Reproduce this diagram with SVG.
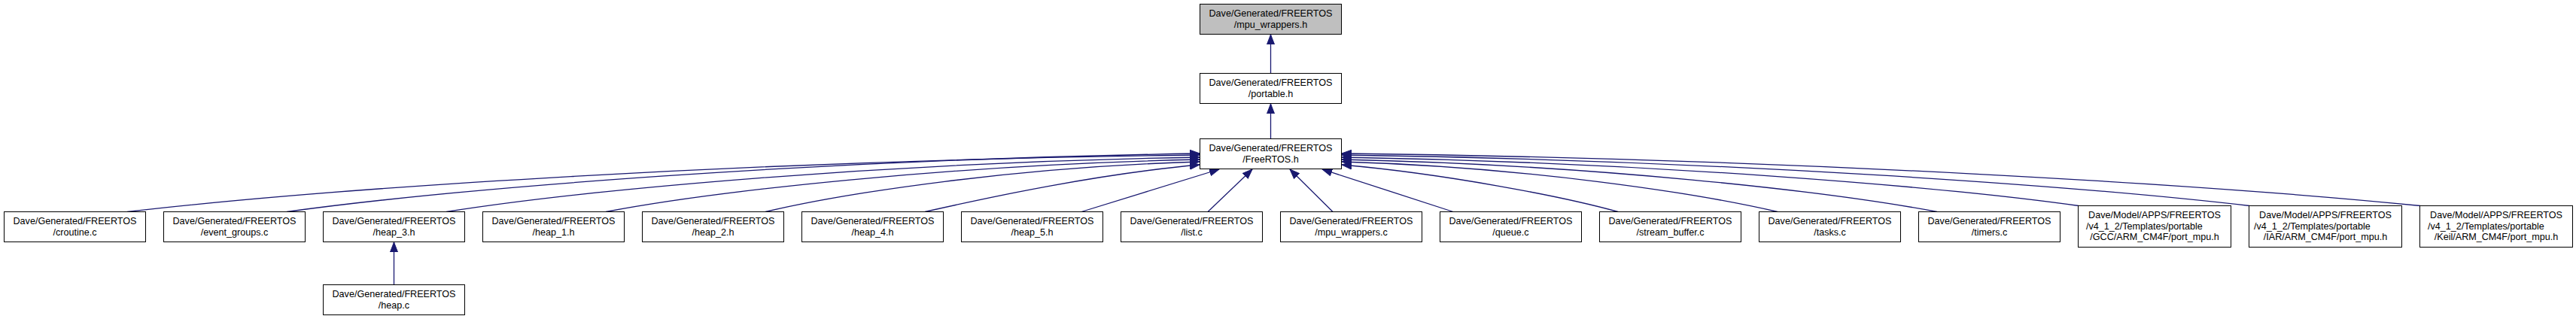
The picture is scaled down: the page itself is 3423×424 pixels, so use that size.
<svg xmlns="http://www.w3.org/2000/svg" width="3423" height="424" viewBox="0 0 3423 424">
<style>
.n rect{fill:#ffffff;stroke:#000000;stroke-width:1}
.n.g rect{fill:#bfbfbf}
text{font-family:"Liberation Sans",Arial,sans-serif;font-size:12.6px;fill:#000000}
.c{text-anchor:middle}
.e path{fill:none;stroke:#191970;stroke-width:1.3;marker-end:url(#ah)}
</style>
<defs>
<marker id="ah" viewBox="0 0 14 11" markerUnits="userSpaceOnUse" markerWidth="14" markerHeight="11" refX="13" refY="5.5" orient="auto">
<path d="M0,0.5 L13,5.5 L0,10.5 z" fill="#191970" stroke="#191970" stroke-width="1"/>
</marker>
</defs>
<rect width="3423" height="424" fill="#ffffff"/>
<g class="e" id="edges">
<path d="M1688.5,97.5 L1688.5,46"/>
<path d="M1688.5,184.5 L1688.5,138"/>
<path d="M523.5,378.5 L523.5,322"/>
<path d="M169,281.5 C440,250 995.5,213 1594,206"/>
<path d="M381,281.5 C610,250 1084.5,212 1594,204"/>
<path d="M593,281.5 C780,252 1173.6,216 1594,209"/>
<path d="M805,281.5 C950,254 1262.6,219 1594,212"/>
<path d="M1017,281.5 C1125,256 1351.7,222 1594,215"/>
<path d="M1229,281.5 C1320,261 1460,231 1594,219"/>
<path d="M1437,281.5 L1620,225"/>
<path d="M1605,281.5 L1664,225"/>
<path d="M1771,281.5 L1714,225"/>
<path d="M1931,281.5 L1757,225"/>
<path d="M2150,281.5 C2076,261 1920,231 1783,219"/>
<path d="M2362,281.5 C2252,256 2025.9,222 1783,215"/>
<path d="M2574,281.5 C2428,254 2114.9,219 1783,212"/>
<path d="M2762,273.5 C2580,248 2193.9,216 1783,209"/>
<path d="M2989,273.5 C2760,247 2289.2,213 1783,206"/>
<path d="M3216,273.5 C2940,246 2384.6,211 1783,204"/>
</g>
<g class="n g" id="node_mpu_wrappers_h"><rect x="1594.5" y="5.5" width="188" height="40"/><text class="c" x="1688.5" y="22">Dave/Generated/FREERTOS</text><text class="c" x="1688.5" y="37">/mpu_wrappers.h</text></g>
<g class="n" id="node_portable_h"><rect x="1594.5" y="97.5" width="188" height="40"/><text class="c" x="1688.5" y="114">Dave/Generated/FREERTOS</text><text class="c" x="1688.5" y="129">/portable.h</text></g>
<g class="n" id="node_FreeRTOS_h"><rect x="1594.5" y="184.5" width="188" height="40"/><text class="c" x="1688.5" y="201">Dave/Generated/FREERTOS</text><text class="c" x="1688.5" y="216">/FreeRTOS.h</text></g>
<g class="n" id="node_croutine_c"><rect x="5.5" y="281.5" width="188" height="40"/><text class="c" x="99.5" y="298">Dave/Generated/FREERTOS</text><text class="c" x="99.5" y="313">/croutine.c</text></g>
<g class="n" id="node_event_groups_c"><rect x="217.5" y="281.5" width="188" height="40"/><text class="c" x="311.5" y="298">Dave/Generated/FREERTOS</text><text class="c" x="311.5" y="313">/event_groups.c</text></g>
<g class="n" id="node_heap_3_h"><rect x="429.5" y="281.5" width="188" height="40"/><text class="c" x="523.5" y="298">Dave/Generated/FREERTOS</text><text class="c" x="523.5" y="313">/heap_3.h</text></g>
<g class="n" id="node_heap_1_h"><rect x="641.5" y="281.5" width="188" height="40"/><text class="c" x="735.5" y="298">Dave/Generated/FREERTOS</text><text class="c" x="735.5" y="313">/heap_1.h</text></g>
<g class="n" id="node_heap_2_h"><rect x="853.5" y="281.5" width="188" height="40"/><text class="c" x="947.5" y="298">Dave/Generated/FREERTOS</text><text class="c" x="947.5" y="313">/heap_2.h</text></g>
<g class="n" id="node_heap_4_h"><rect x="1065.5" y="281.5" width="188" height="40"/><text class="c" x="1159.5" y="298">Dave/Generated/FREERTOS</text><text class="c" x="1159.5" y="313">/heap_4.h</text></g>
<g class="n" id="node_heap_5_h"><rect x="1277.5" y="281.5" width="188" height="40"/><text class="c" x="1371.5" y="298">Dave/Generated/FREERTOS</text><text class="c" x="1371.5" y="313">/heap_5.h</text></g>
<g class="n" id="node_list_c"><rect x="1489.5" y="281.5" width="188" height="40"/><text class="c" x="1583.5" y="298">Dave/Generated/FREERTOS</text><text class="c" x="1583.5" y="313">/list.c</text></g>
<g class="n" id="node_mpu_wrappers_c"><rect x="1701.5" y="281.5" width="188" height="40"/><text class="c" x="1795.5" y="298">Dave/Generated/FREERTOS</text><text class="c" x="1795.5" y="313">/mpu_wrappers.c</text></g>
<g class="n" id="node_queue_c"><rect x="1913.5" y="281.5" width="188" height="40"/><text class="c" x="2007.5" y="298">Dave/Generated/FREERTOS</text><text class="c" x="2007.5" y="313">/queue.c</text></g>
<g class="n" id="node_stream_buffer_c"><rect x="2125.5" y="281.5" width="188" height="40"/><text class="c" x="2219.5" y="298">Dave/Generated/FREERTOS</text><text class="c" x="2219.5" y="313">/stream_buffer.c</text></g>
<g class="n" id="node_tasks_c"><rect x="2337.5" y="281.5" width="188" height="40"/><text class="c" x="2431.5" y="298">Dave/Generated/FREERTOS</text><text class="c" x="2431.5" y="313">/tasks.c</text></g>
<g class="n" id="node_timers_c"><rect x="2549.5" y="281.5" width="188" height="40"/><text class="c" x="2643.5" y="298">Dave/Generated/FREERTOS</text><text class="c" x="2643.5" y="313">/timers.c</text></g>
<g class="n" id="node_gcc_port_mpu_h"><rect x="2761.5" y="273.5" width="203" height="55"/><text class="c" x="2863" y="290">Dave/Model/APPS/FREERTOS</text><text x="2772" y="305">/v4_1_2/Templates/portable</text><text class="c" x="2863" y="319">/GCC/ARM_CM4F/port_mpu.h</text></g>
<g class="n" id="node_iar_port_mpu_h"><rect x="2988.5" y="273.5" width="203" height="55"/><text class="c" x="3090" y="290">Dave/Model/APPS/FREERTOS</text><text x="2995" y="305">/v4_1_2/Templates/portable</text><text class="c" x="3090" y="319">/IAR/ARM_CM4F/port_mpu.h</text></g>
<g class="n" id="node_keil_port_mpu_h"><rect x="3215.5" y="273.5" width="203" height="55"/><text class="c" x="3317" y="290">Dave/Model/APPS/FREERTOS</text><text x="3226" y="305">/v4_1_2/Templates/portable</text><text class="c" x="3317" y="319">/Keil/ARM_CM4F/port_mpu.h</text></g>
<g class="n" id="node_heap_c"><rect x="429.5" y="378.5" width="188" height="40"/><text class="c" x="523.5" y="395">Dave/Generated/FREERTOS</text><text class="c" x="523.5" y="410">/heap.c</text></g>
</svg>
